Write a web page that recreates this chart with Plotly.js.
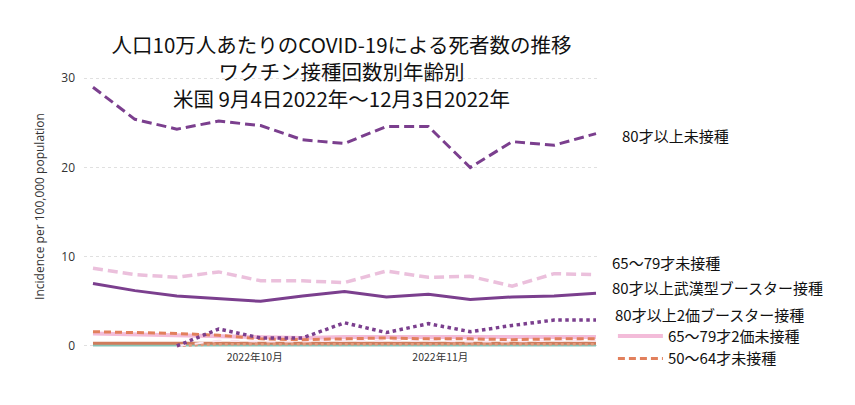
<!DOCTYPE html>
<html>
<head>
<meta charset="utf-8">
<script src="https://cdn.plot.ly/plotly-3.0.1.min.js"></script>
<style>html,body{margin:0;padding:0;background:#fff;}#chart{width:855px;height:405px;}</style>
</head>
<body>
<div id="chart"></div>
<script>
// ---- data ----
const weeks = ['2022-09-04','2022-09-11','2022-09-18','2022-09-25','2022-10-02','2022-10-09','2022-10-16','2022-10-23','2022-10-30','2022-11-06','2022-11-13','2022-11-20','2022-11-27'];
const tickVals = ['2022-10-01','2022-11-01'];
const tickLabels = ['2022年10月','2022年11月'];

const unvax80      = [29.0, 25.4, 24.3, 25.2, 24.7, 23.1, 22.7, 24.6, 24.6, 20.0, 22.9, 22.5, 23.8];
const unvax65      = [8.7, 8.0, 7.7, 8.3, 7.3, 7.3, 7.1, 8.4, 7.7, 7.8, 6.7, 8.1, 8.0];
const wuhanBoost80 = [7.0, 6.2, 5.6, 5.3, 5.0, 5.6, 6.1, 5.5, 5.8, 5.2, 5.5, 5.6, 5.9];
const bivBoost80   = [null, null, 0.0, 1.9, 0.9, 0.9, 2.6, 1.5, 2.5, 1.6, 2.3, 2.9, 2.9];
const noBiv65      = [1.4, 1.3, 1.2, 1.0, 0.9, 0.9, 1.0, 1.0, 1.0, 0.9, 0.9, 0.9, 1.0];
const unvax50      = [1.6, 1.5, 1.4, 1.2, 0.8, 0.7, 0.8, 0.9, 0.8, 0.8, 0.7, 0.8, 0.8];
const bivBoost65   = [null, null, 0.0, 0.6, 0.5, 0.5, 0.6, 0.6, 0.6, 0.5, 0.5, 0.6, 0.6];
const wuhanBoost50 = [0.3, 0.3, 0.3, 0.3, 0.3, 0.3, 0.3, 0.3, 0.3, 0.3, 0.3, 0.3, 0.3];
const bivBoost50   = [null, null, 0.0, 0.2, 0.2, 0.2, 0.2, 0.2, 0.2, 0.2, 0.2, 0.2, 0.2];
const unvax18      = [0.1, 0.1, 0.1, 0.1, 0.1, 0.1, 0.1, 0.1, 0.1, 0.1, 0.1, 0.1, 0.1];

const labels = {
  unvax80: '80才以上未接種',
  unvax65: '65〜79才未接種',
  wuhanBoost80: '80才以上武漢型ブースター接種',
  bivBoost80: '80才以上2価ブースター接種',
  noBiv65: '65〜79才2価未接種',
  unvax50: '50〜64才未接種'
};

const purple = '#7b3f8e';
const traces = [
  {x: weeks, y: unvax18, name: '18〜49才未接種', mode: 'lines', line: {color: '#86c3b5', width: 3}, showlegend: false},
  {x: weeks, y: wuhanBoost50, name: '50〜64才武漢型ブースター接種', mode: 'lines', line: {color: '#cf7c5c', width: 3}, showlegend: false},
  {x: weeks, y: bivBoost50, name: '50〜64才2価ブースター接種', mode: 'lines', line: {color: '#e39a7c', width: 2.5, dash: 'dot'}, showlegend: false},
  {x: weeks, y: noBiv65, name: labels.noBiv65, mode: 'lines', line: {color: '#f3bcd9', width: 4}, showlegend: true},
  {x: weeks, y: bivBoost65, name: '65〜79才2価ブースター接種', mode: 'lines', line: {color: '#fbe6f1', width: 2, dash: 'dash'}, showlegend: false},
  {x: weeks, y: unvax50, name: labels.unvax50, mode: 'lines', line: {color: '#e2805c', width: 3, dash: '7px,4px'}, showlegend: true},
  {x: weeks, y: unvax65, name: labels.unvax65, mode: 'lines', line: {color: '#ebc0dc', width: 3.5, dash: '10px,5px'}, showlegend: false},
  {x: weeks, y: wuhanBoost80, name: labels.wuhanBoost80, mode: 'lines', line: {color: purple, width: 3}, showlegend: false},
  {x: weeks, y: bivBoost80, name: labels.bivBoost80, mode: 'lines', line: {color: purple, width: 3.5, dash: 'dot'}, showlegend: false},
  {x: weeks, y: unvax80, name: labels.unvax80, mode: 'lines', line: {color: purple, width: 3, dash: '10px,5px'}, showlegend: false}
];

const annFont = {family: 'Noto Sans CJK JP', size: 15, color: '#111'};
function ann(text, xp, yv) {
  return {text: text, xref: 'paper', x: xp, yref: 'y', y: yv, xanchor: 'left', yanchor: 'middle', showarrow: false, font: annFont};
}

const layout = {
  width: 855, height: 405,
  margin: {l: 84, r: 256, t: 64, b: 56},
  paper_bgcolor: '#fff', plot_bgcolor: '#fff',
  title: {
    text: '人口10万人あたりのCOVID-19による死者数の推移<br>ワクチン接種回数別年齢別<br>米国 9月4日2022年〜12月3日2022年',
    font: {family: 'Noto Sans CJK JP', size: 20.5, color: '#111'},
    x: 0.5, xref: 'paper', xanchor: 'center',
    y: 0.868, yref: 'container', yanchor: 'top'
  },
  xaxis: {
    type: 'date',
    range: ['2022-09-02 12:00', '2022-11-27 12:00'],
    tickvals: tickVals, ticktext: tickLabels,
    showgrid: false, zeroline: false, showline: false, ticks: '',
    tickfont: {family: 'Noto Sans CJK JP', size: 10.5, color: '#333'}
  },
  yaxis: {
    range: [-0.34, 31.6],
    tickvals: [0, 10, 20, 30],
    showgrid: true, gridcolor: '#e0e0e0', griddash: 'dot', gridwidth: 1,
    zeroline: false, showline: false, ticks: '',
    ticklabelstandoff: 8,
    tickfont: {family: 'Open Sans', size: 12, color: '#333'},
    title: {text: 'Incidence per 100,000 population', font: {family: 'Open Sans', size: 12, color: '#333'}, standoff: 14}
  },
  showlegend: true,
  legend: {
    x: 1.027, xanchor: 'left', y: 0.103, yanchor: 'top',
    font: {family: 'Noto Sans CJK JP', size: 15, color: '#111'},
    bgcolor: 'rgba(0,0,0,0)', itemwidth: 45, tracegroupgap: 0,
    traceorder: 'normal'
  },
  annotations: [
    ann(labels.unvax80, 1.041, 23.6),
    ann(labels.unvax65, 1.022, 9.3),
    ann(labels.wuhanBoost80, 1.022, 6.6),
    ann(labels.bivBoost80, 1.027, 3.5)
  ]
};

Plotly.newPlot('chart', traces, layout, {displayModeBar: false, staticPlot: true});
</script>
</body>
</html>
